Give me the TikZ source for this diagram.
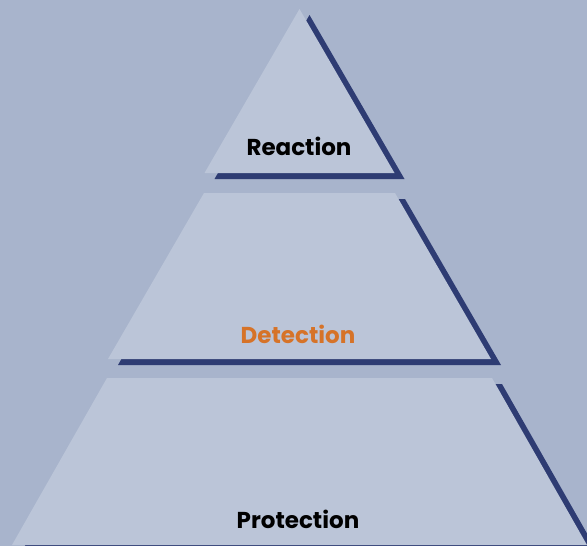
\documentclass[tikz,border=0pt]{standalone}
\usepackage{fontspec}
\setmainfont{Poppins}
\usetikzlibrary{positioning}
\definecolor{bgblue}{RGB}{168,180,204}
\definecolor{tierfill}{RGB}{187,197,216}
\definecolor{navy}{RGB}{46,60,115}
\definecolor{detorange}{RGB}{214,115,40}

\begin{document}
\begin{tikzpicture}[x=1pt,y=-1pt]
\tikzset{tier/.style={fill=tierfill}}
\tikzset{tiershadow/.style={fill=navy,shift={(10,6)}}}
\tikzset{tiertext/.style={anchor=base,font=\bfseries\fontsize{23}{23}\selectfont}}

\fill[bgblue] (0,0) rectangle (587,546);
\useasboundingbox (0,0) rectangle (587,546);
\clip (0,0) rectangle (587,546);

% top y / bottom y / top half width / bottom half width
\foreach \yt/\yb/\wt/\wb in {9/173/0/95, 193/359/95.5/191.5, 378/545/192.5/287.5}{%
\fill[tiershadow] ({299.5-\wt},\yt) -- ({299.5+\wt},\yt) -- ({299.5+\wb},\yb) -- ({299.5-\wb},\yb) -- cycle;
\fill[tier] ({299.5-\wt},\yt) -- ({299.5+\wt},\yt) -- ({299.5+\wb},\yb) -- ({299.5-\wb},\yb) -- cycle;}

\node[tiertext] (reaction) at (299,155) {Reaction};
\node[tiertext,text=detorange] (detection) at (298,343) {Detection};
\node[tiertext] (protection) at (298,528) {Protection};
\end{tikzpicture}
\end{document}
